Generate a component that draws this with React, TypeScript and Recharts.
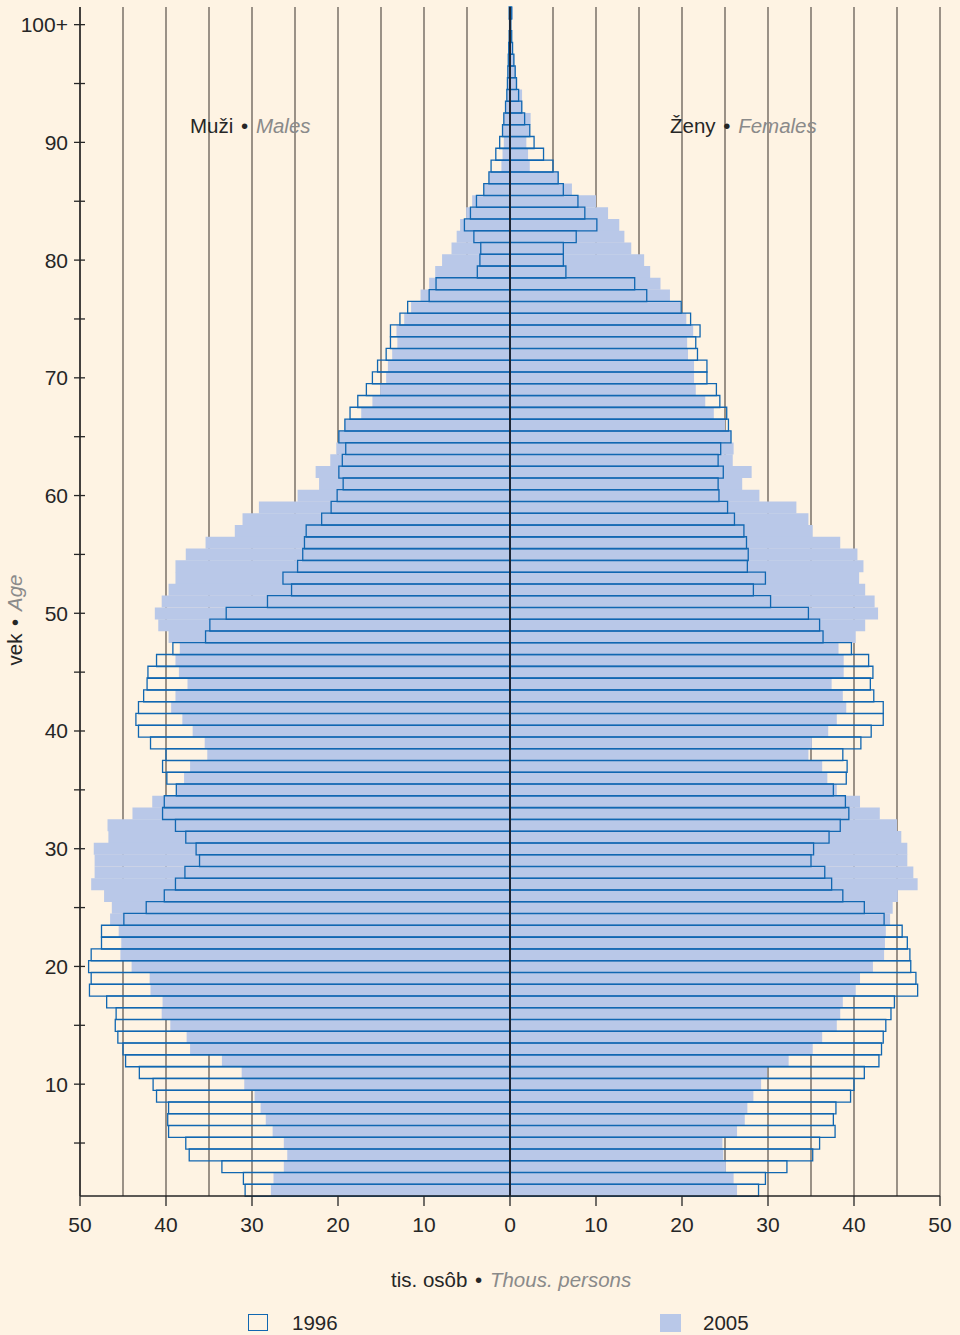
import React from 'react';
import { BarChart, Bar, XAxis, YAxis, CartesianGrid, ReferenceLine } from 'recharts';

// values in thousands of persons, index = age (0 .. 100+)
const males1996 = [
  30.8, 31.0, 33.5, 37.3, 37.7, 39.7, 39.8, 39.7, 41.1, 41.5,
  43.1, 44.7, 45.0, 45.6, 45.9, 45.8, 46.9, 48.9, 48.7, 49.0,
  48.7, 47.5, 47.5, 44.9, 42.3, 40.2, 38.9, 37.8, 36.1, 36.5,
  37.7, 38.9, 40.4, 40.2, 38.8, 39.9, 40.4, 40.0, 41.8, 43.2,
  43.5, 43.2, 42.6, 42.2, 42.1, 41.1, 39.2, 35.4, 34.9, 33.0,
  28.2, 25.4, 26.4, 24.7, 24.1, 23.9, 23.7, 21.9, 20.8, 20.1,
  19.4, 19.9, 19.5, 19.1, 19.9, 19.2, 18.6, 17.7, 16.7, 16.0,
  15.4, 14.4, 13.9, 13.9, 12.8, 11.9, 9.4, 8.6, 3.8, 3.5,
  3.4, 4.2, 5.3, 4.6, 3.9, 3.05, 2.45, 2.2, 1.65, 1.2,
  0.87, 0.72, 0.52, 0.37, 0.3, 0.25, 0.2, 0.15, 0.1, 0.05,
  0.1,
];
const males2005 = [
  27.8, 27.5, 26.3, 25.9, 26.3, 27.6, 28.4, 29.0, 29.7, 30.9,
  31.2, 33.5, 37.2, 37.6, 39.5, 40.5, 40.4, 41.8, 41.9, 44.0,
  45.3, 45.2, 45.5, 46.5, 46.3, 47.2, 48.7, 48.3, 48.3, 48.4,
  46.7, 46.8, 43.9, 41.6, 38.8, 37.9, 37.2, 35.2, 35.5, 36.9,
  38.1, 39.4, 38.9, 37.5, 38.5, 38.9, 38.4, 39.7, 40.9, 41.3,
  40.5, 39.7, 38.9, 38.9, 37.7, 35.4, 32.0, 31.1, 29.2, 24.7,
  22.2, 22.6, 20.9, 20.2, 19.9, 19.2, 17.3, 16.0, 15.1, 14.4,
  14.2, 13.7, 13.1, 13.2, 12.3, 11.5, 10.4, 9.4, 8.7, 7.9,
  6.8, 6.2, 5.8, 5.1, 4.4, 3.05, 2.45, 1.0, 0.87, 0.72,
  0.87, 0.7, 0.5, 0.37, 0.3, 0.25, 0.2, 0.15, 0.1, 0.05,
  0.1,
];
const females1996 = [
  28.9, 29.7, 32.2, 35.2, 36.0, 37.8, 37.6, 37.9, 39.6, 40.0,
  41.2, 42.9, 43.2, 43.4, 43.7, 44.3, 44.7, 47.4, 47.2, 46.6,
  46.5, 46.2, 45.6, 43.5, 41.2, 38.7, 37.4, 36.6, 35.0, 35.3,
  37.1, 38.4, 39.4, 39.0, 37.6, 39.1, 39.2, 38.7, 40.8, 42.0,
  43.4, 43.4, 42.3, 41.9, 42.2, 41.7, 39.7, 36.4, 36.0, 34.7,
  30.3, 28.3, 29.7, 27.6, 27.7, 27.5, 27.2, 26.1, 25.3, 24.3,
  24.2, 24.8, 24.2, 24.5, 25.7, 25.4, 25.2, 24.4, 24.0, 22.9,
  22.9, 21.8, 21.6, 22.1, 21.0, 19.9, 15.9, 14.5, 6.5, 6.2,
  6.2, 7.7, 10.1, 8.7, 7.9, 6.2, 5.6, 5.0, 3.9, 2.8,
  2.3, 1.7, 1.37, 1.0, 0.75, 0.6, 0.45, 0.3, 0.2, 0.1,
  0.2,
];
const females2005 = [
  26.4, 26.0, 25.1, 24.8, 24.7, 26.4, 27.3, 27.6, 28.3, 29.2,
  29.9, 32.4, 35.2, 36.3, 38.0, 38.4, 38.7, 40.2, 40.7, 42.2,
  43.5, 43.6, 43.7, 44.2, 44.5, 45.1, 47.4, 46.9, 46.2, 46.2,
  45.5, 45.0, 43.0, 40.7, 38.0, 36.9, 36.3, 34.7, 35.1, 37.0,
  38.0, 39.1, 38.7, 37.4, 38.8, 38.8, 38.2, 40.2, 41.3, 42.8,
  42.4, 41.3, 40.6, 41.1, 40.4, 38.4, 35.2, 34.7, 33.3, 29.0,
  27.0, 28.1, 25.9, 26.0, 25.7, 25.0, 23.7, 22.7, 21.6, 21.4,
  21.4, 20.7, 20.6, 21.3, 20.5, 19.8, 18.6, 17.5, 16.3, 15.6,
  14.1, 13.3, 12.7, 11.4, 10.0, 7.2, 5.7, 2.3, 2.1, 1.9,
  2.3, 2.4, 1.4, 1.4, 0.85, 0.7, 0.5, 0.3, 0.2, 0.1,
  0.3,
];

const ageTicks = [10, 20, 30, 40, 50, 60, 70, 80, 90, 100];
const ageTickLabels = ['10', '20', '30', '40', '50', '60', '70', '80', '90', '100+'];
const xTicks = [-50, -40, -30, -20, -10, 0, 10, 20, 30, 40, 50];
const gridValues = [-50, -45, -40, -35, -30, -25, -20, -15, -10, -5, 5, 10, 15, 20, 25, 30, 35, 40, 45, 50];

// top row first (100+), bottom row last (0)
const data = males1996
  .map((_, age) => ({
    age,
    m1996: -males1996[age],
    f1996: females1996[age],
    m2005: -males2005[age],
    f2005: females2005[age],
  }))
  .reverse();

const W = 960;
const H = 1335;
const AXIS_X = 80;
const PLOT_TOP = 7;
const PLOT_BOTTOM = 1196;
const ROW_H = (PLOT_BOTTOM - PLOT_TOP) / data.length;

const FONT = '"Liberation Sans", Arial, sans-serif';
const DARK = '#262626';
const GREY = '#8a8a8a';
const FILL_2005 = '#b9c8e8';
const LINE_1996 = '#1167b1';

const AgeTick = (props: any) => {
  const age = Number(props.payload.value);
  if (age === 0 || age % 5 !== 0) return <g />;
  const ty = props.y + ROW_H;
  const idx = ageTicks.indexOf(age);
  return (
    <g>
      <line x1={AXIS_X - 6} x2={AXIS_X + 5} y1={ty} y2={ty} stroke={DARK} strokeWidth={1.3} />
      {idx >= 0 && (
        <text x={AXIS_X - 12} y={ty} textAnchor="end" dominantBaseline="central" fontSize={21} fill={DARK} fontFamily={FONT}>
          {ageTickLabels[idx]}
        </text>
      )}
    </g>
  );
};

const txt: React.CSSProperties = { position: 'absolute', fontFamily: FONT, fontSize: 20.5, lineHeight: '24px', color: DARK, whiteSpace: 'nowrap' };
const it: React.CSSProperties = { fontStyle: 'italic', color: GREY };
const dot: React.CSSProperties = { margin: '0 2px' };

export default function App() {
  return (
    <div style={{ position: 'absolute', left: 0, top: 0, width: W, height: H, background: '#fef3e3', overflow: 'hidden' }}>
      <BarChart
        width={W}
        height={H}
        data={data}
        layout="vertical"
        stackOffset="sign"
        barCategoryGap={0}
        barGap={0}
        margin={{ top: PLOT_TOP, right: 20, bottom: 99, left: 0 }}
      >
        <CartesianGrid yAxisId="a" horizontal={false} verticalValues={gridValues} stroke="#655c55" strokeWidth={1.3} />
        <XAxis
          type="number"
          domain={[-50, 50]}
          ticks={xTicks}
          interval={0}
          allowDataOverflow
          tickFormatter={(v: number) => String(Math.abs(v))}
          height={40}
          tickSize={10}
          tickMargin={11}
          axisLine={{ stroke: DARK, strokeWidth: 1.5 }}
          tickLine={{ stroke: DARK, strokeWidth: 1.3 }}
          tick={{ fill: DARK, fontSize: 21, fontFamily: FONT }}
        />
        <XAxis xAxisId="top" orientation="top" type="number" domain={[-50, 50]} height={0} tick={false} tickLine={false} axisLine={{ stroke: DARK, strokeWidth: 1.5 }} />
        <YAxis
          yAxisId="a"
          type="category"
          dataKey="age"
          width={AXIS_X}
          interval={0}
          tickLine={false}
          axisLine={{ stroke: DARK, strokeWidth: 1.5 }}
          tick={<AgeTick />}
        />
        <YAxis yAxisId="b" type="category" dataKey="age" hide />
        <Bar yAxisId="a" dataKey="m2005" stackId="y2005" fill={FILL_2005} isAnimationActive={false} />
        <Bar yAxisId="a" dataKey="f2005" stackId="y2005" fill={FILL_2005} isAnimationActive={false} />
        <Bar yAxisId="b" dataKey="m1996" stackId="y1996" fill="none" stroke={LINE_1996} strokeWidth={1.3} isAnimationActive={false} />
        <Bar yAxisId="b" dataKey="f1996" stackId="y1996" fill="none" stroke={LINE_1996} strokeWidth={1.3} isAnimationActive={false} />
        <ReferenceLine yAxisId="a" x={0} stroke="#1c2636" strokeWidth={2} />
      </BarChart>

      <div style={{ ...txt, left: 190, top: 114 }}>
        Muži<span style={dot}> • </span><span style={it}>Males</span>
      </div>
      <div style={{ ...txt, left: 670, top: 114 }}>
        Ženy<span style={dot}> • </span><span style={it}>Females</span>
      </div>
      <div style={{ ...txt, left: -85, top: 608, width: 200, textAlign: 'center', transform: 'rotate(-90deg)' }}>
        vek<span style={dot}> • </span><span style={it}>Age</span>
      </div>
      <div style={{ ...txt, left: 391, top: 1268 }}>
        tis. osôb<span style={dot}> • </span><span style={it}>Thous. persons</span>
      </div>

      <div style={{ position: 'absolute', left: 248, top: 1314, width: 18, height: 15, border: `1.5px solid ${LINE_1996}` }} />
      <div style={{ ...txt, left: 292, top: 1311 }}>1996</div>
      <div style={{ position: 'absolute', left: 660, top: 1314, width: 21, height: 18, background: FILL_2005 }} />
      <div style={{ ...txt, left: 703, top: 1311 }}>2005</div>
    </div>
  );
}
